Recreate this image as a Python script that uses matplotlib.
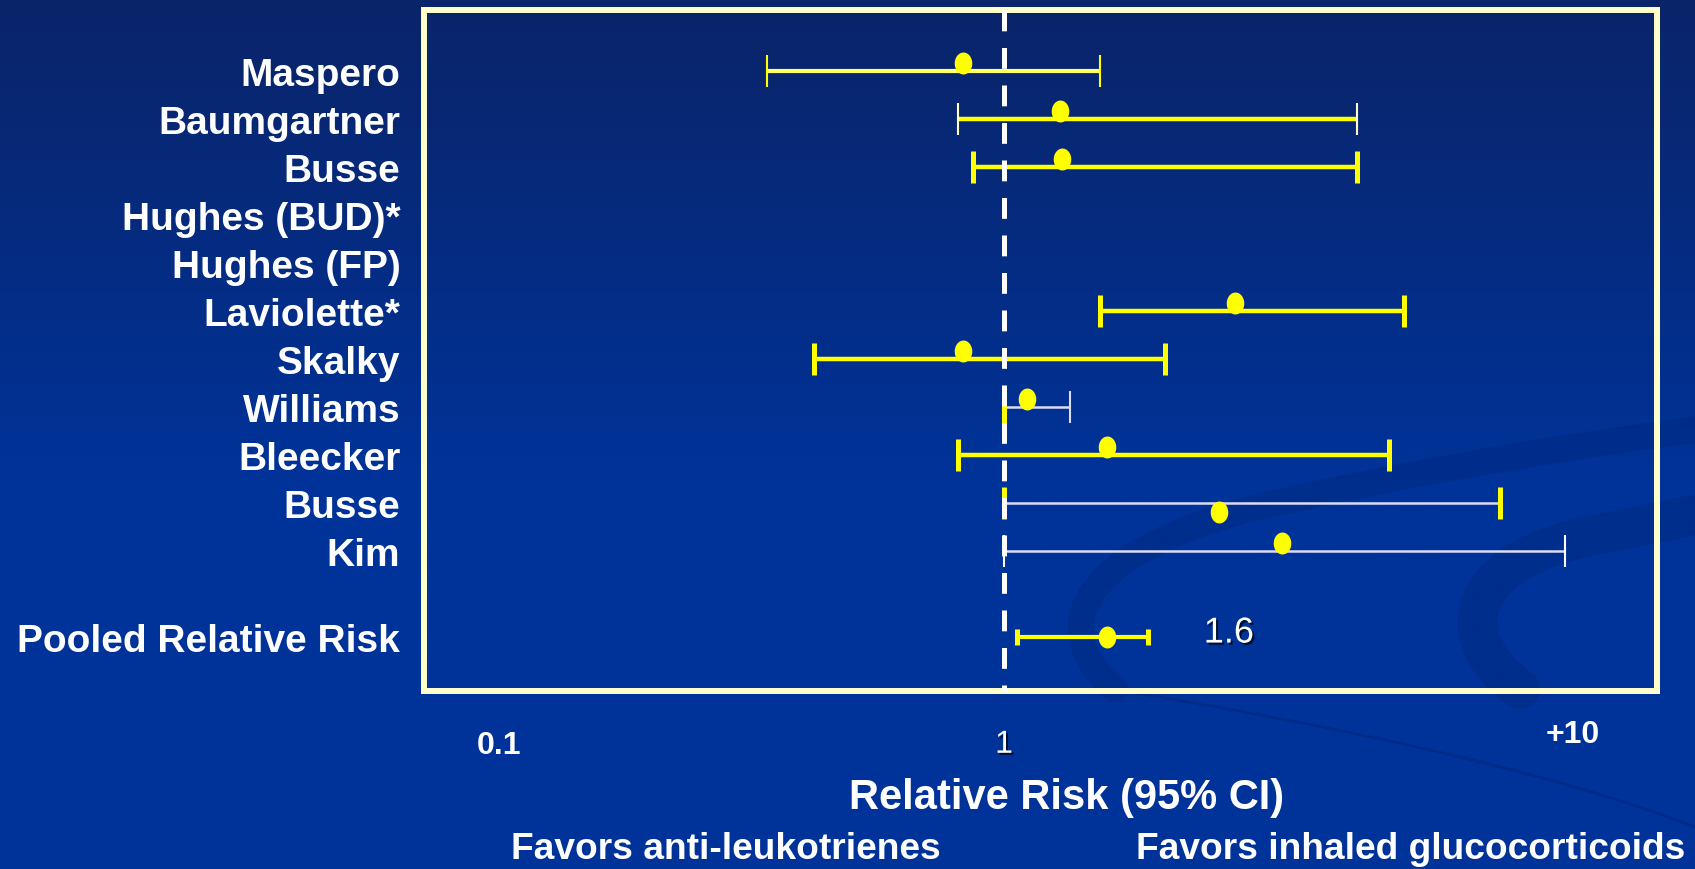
import numpy as np
import matplotlib
matplotlib.use('Agg')
import matplotlib.pyplot as plt
import matplotlib.patheffects as pe
from matplotlib.path import Path
from matplotlib.patches import PathPatch
from matplotlib.markers import MarkerStyle
from matplotlib.ticker import NullLocator
from matplotlib.transforms import blended_transform_factory, offset_copy

plt.rcParams['font.family'] = ['Liberation Sans', 'DejaVu Sans']
plt.rcParams['lines.scale_dashes'] = False

# studies, top to bottom; the last row is the pooled estimate
studies = ['Maspero', 'Baumgartner', 'Busse', 'Hughes (BUD)*', 'Hughes (FP)',
           'Laviolette*', 'Skalky', 'Williams', 'Bleecker', 'Busse', 'Kim',
           'Pooled Relative Risk']
rr = [0.83, 1.29, 1.30, np.nan, np.nan, 2.87, 0.83, 1.11, 1.60, 2.66, 3.55, 1.6]
ci_lo = [0.34, 0.81, 0.87, np.nan, np.nan, 1.55, 0.42, 1.0, 0.81, 1.0, 1.0, 1.06]
ci_hi = [1.55, 4.99, 4.99, np.nan, np.nan, 6.20, 2.08, 1.35, 5.78, 9.60, 12.9, 1.93]

tick_vals = [0.1, 1, 10]
tick_text = ['0.1', '1', '+10']

YEL = '#FFFF00'
PALE = '#FFFFCC'
LAV = '#DCDCF5'
# per-row styling of the interval lines and end caps
line_col = ['#FFFF66', YEL, YEL, None, None, YEL, YEL, LAV, YEL, LAV, LAV, YEL]
line_w = [3.0, 3.2, 3.2, 0, 0, 3.2, 3.2, 1.8, 3.2, 1.8, 1.8, 3.0]
lo_cap = [(YEL, 1.5), (PALE, 1.5), (YEL, 3.6), None, None, (YEL, 3.6), (YEL, 3.6),
          (YEL, 3.6), (YEL, 3.6), (YEL, 3.6), ('white', 1.5), (YEL, 3.6)]
hi_cap = [(YEL, 1.5), (PALE, 1.5), (YEL, 3.6), None, None, (YEL, 3.6), (YEL, 3.6),
          (LAV, 1.5), (YEL, 3.6), (YEL, 3.6), ('white', 1.5), (YEL, 3.6)]
cap_len = [23] * 11 + [12]
dot_shift = [5.8, 5.8, 5.8, 0, 0, 5.8, 5.8, 5.8, 5.8, -6.5, 5.8, 0]

rows = list(range(11)) + [11.8]

fig = plt.figure(figsize=(16.95, 8.70), dpi=100)

# slide background: vertical gradient plus a few faint swooshes
bg = fig.add_axes([0, 0, 1, 1])
bg.set_xlim(0, 1695)
bg.set_ylim(870, 0)
bg.axis('off')
t = np.clip(np.linspace(0, 1, 300) / 0.55, 0, 1)[:, None]
top = np.array([10, 36, 104]) / 255
bot = np.array([0, 51, 153]) / 255
grad = (top * (1 - t) + bot * t)[:, None, :]
bg.imshow(grad, extent=(0, 1695, 870, 0), aspect='auto', zorder=0)

C4 = Path.CURVE4
swooshes = [
    ([(1115, 690), (1055, 640), (1060, 560), (1250, 510),
      (1400, 475), (1550, 450), (1700, 430)],
     [Path.MOVETO, C4, C4, C4, C4, C4, C4], 19, 0.45),
    ([(1520, 690), (1450, 640), (1460, 560), (1600, 535), (1700, 515)],
     [Path.MOVETO, C4, C4, C4, Path.LINETO], 29, 0.45),
    ([(1110, 690), (1300, 720), (1550, 770), (1700, 830)],
     [Path.MOVETO, C4, C4, C4], 2.2, 0.6),
]
for pts, codes, lw, a in swooshes:
    bg.add_patch(PathPatch(Path(pts, codes), fill=False, lw=lw,
                           edgecolor='#00287F', alpha=a, capstyle='round', zorder=1))

ax = fig.add_axes([0.2501, 0.2046, 0.7275, 0.7828])
ax.set_facecolor('none')
ax.set_xscale('log')
ax.set_xlim(0.0710, 19.64)
ax.set_ylim(12.92, -1.27)
for s in ax.spines.values():
    s.set_color(PALE)
    s.set_linewidth(4.3)
ax.xaxis.set_major_locator(NullLocator())
ax.xaxis.set_minor_locator(NullLocator())
ax.set_yticks(rows)
ax.set_yticklabels(studies, fontsize=28, fontweight='bold', color='white')
ax.tick_params(axis='y', length=0, pad=17)

ang = np.linspace(0, 2 * np.pi, 60)
dot = MarkerStyle(Path(np.column_stack([0.8 * np.cos(ang), np.sin(ang)]), closed=True))

for i, y in enumerate(rows):
    if np.isnan(rr[i]):
        continue
    ax.plot([ci_lo[i], ci_hi[i]], [y, y], color=line_col[i], lw=line_w[i],
            solid_capstyle='butt', zorder=2)
    for val, cap in ((ci_lo[i], lo_cap[i]), (ci_hi[i], hi_cap[i])):
        ax.plot([val], [y], marker='|', ms=cap_len[i], mew=cap[1],
                color=cap[0], zorder=2)
    tr = offset_copy(ax.transData, fig=fig, y=dot_shift[i], units='points')
    ax.plot([rr[i]], [y], marker=dot, ms=15.8, color=YEL, mec='none',
            transform=tr, zorder=4)

# line of no effect
ax.plot([1, 1], [-1.27, 12.92], color='white', lw=3.6, dashes=(15, 12),
        solid_capstyle='butt', zorder=3)

shadow = [pe.withSimplePatchShadow(offset=(1.5, -1.5), shadow_rgbFace='black', alpha=0.7)]

ax.annotate(f'{rr[-1]:.1f}', xy=(ci_hi[-1], rows[-1]), xytext=(40, 3),
            textcoords='offset points', ha='left', va='center', fontsize=26,
            color='white', path_effects=shadow)

trans = blended_transform_factory(ax.transData, ax.transAxes)
ax.text(tick_vals[0], -0.079, tick_text[0], transform=trans, ha='center',
        va='center', fontsize=23, fontweight='bold', color='white')
ax.text(tick_vals[1], -0.079, tick_text[1], transform=trans, ha='center',
        va='center', fontsize=23, color='white', path_effects=shadow)
ax.annotate(tick_text[2], xy=(tick_vals[2], -0.063), xycoords=trans,
            xytext=(46, 0), textcoords='offset points', ha='center', va='center',
            fontsize=23, fontweight='bold', color='white', annotation_clip=False)

fig.text(0.6295, 0.0828, 'Relative Risk (95% CI)', ha='center', va='center',
         fontsize=30, fontweight='bold', color='white')
fig.text(0.4283, 0.0241, 'Favors anti-leukotrienes', ha='center', va='center',
         fontsize=26.7, fontweight='bold', color='white')
fig.text(0.8324, 0.0241, 'Favors inhaled glucocorticoids', ha='center', va='center',
         fontsize=26.7, fontweight='bold', color='white')

fig.savefig('out.png', dpi=100)
